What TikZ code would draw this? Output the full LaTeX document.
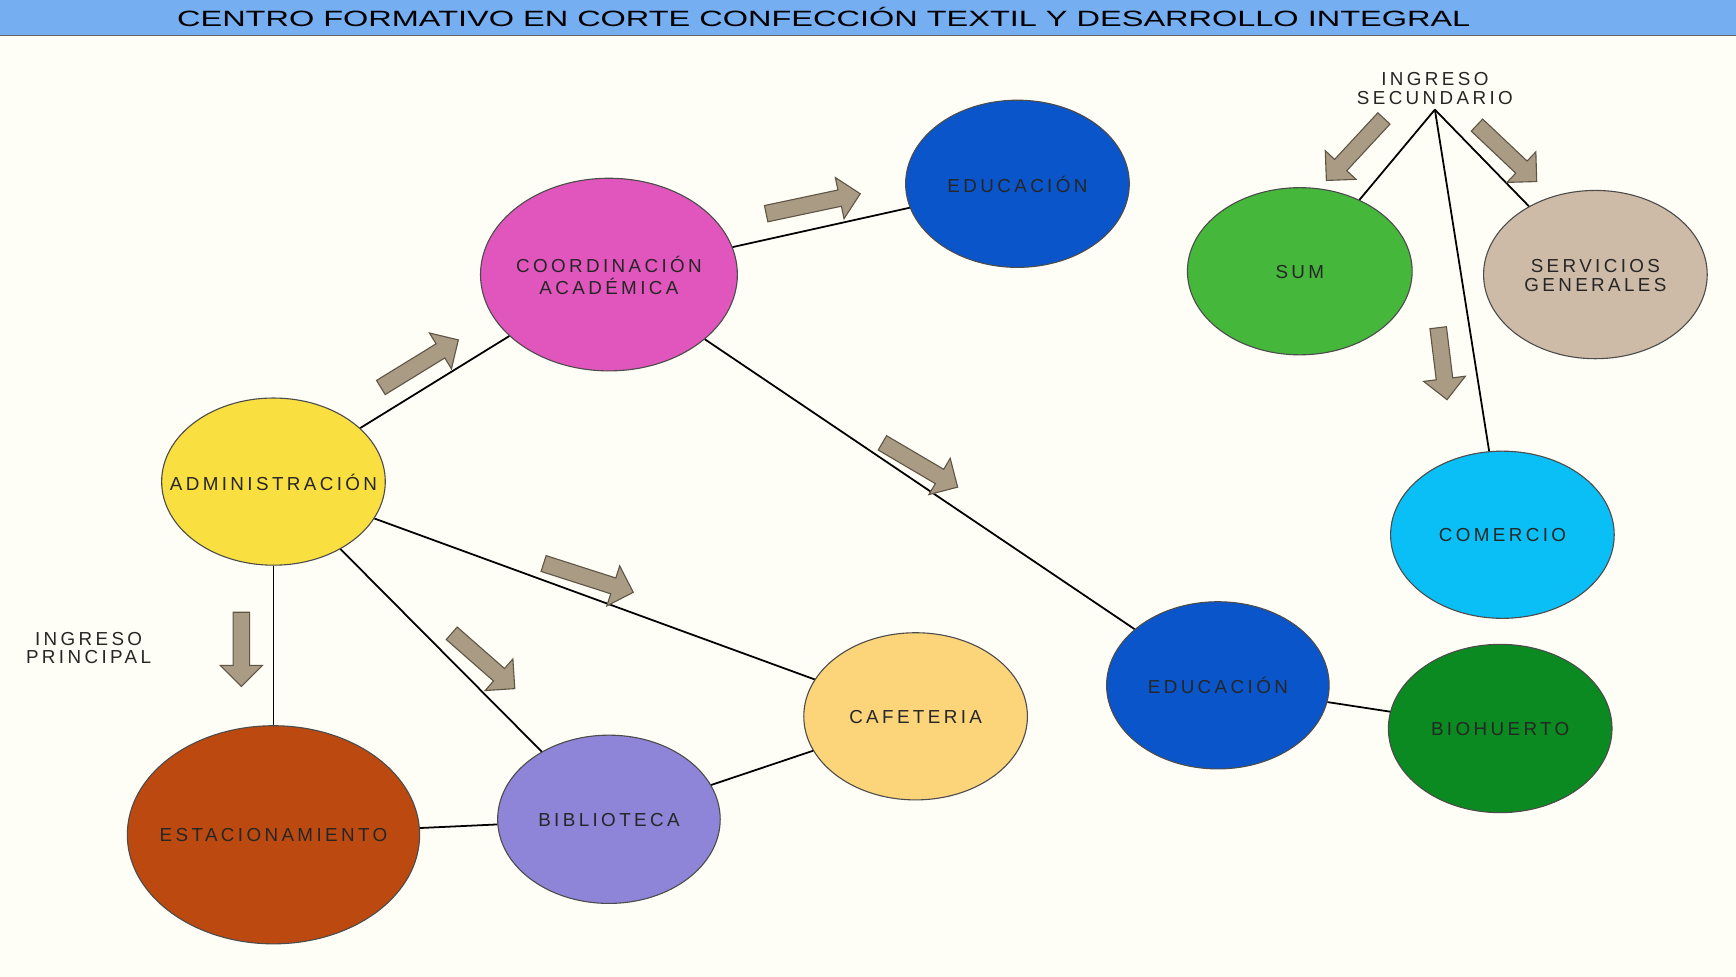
\documentclass[tikz,border=0pt]{standalone}
\usepackage{graphicx}
\usepackage{fontspec}
\setmainfont{Liberation Sans}
\newfontfamily\lblfont[LetterSpace=18]{Liberation Sans}
\usetikzlibrary{shapes.geometric}
\definecolor{bg}{HTML}{FFFEF6}
\definecolor{titleblue}{HTML}{76AEF2}
\definecolor{cEdu}{HTML}{0A55CA}
\definecolor{cCoord}{HTML}{E056BC}
\definecolor{cAdmin}{HTML}{FADF40}
\definecolor{cEstac}{HTML}{BC4A10}
\definecolor{cBiblio}{HTML}{8E85D8}
\definecolor{cCafe}{HTML}{FCD57A}
\definecolor{cBio}{HTML}{0A8A20}
\definecolor{cCom}{HTML}{0ABFF5}
\definecolor{cSum}{HTML}{45B83B}
\definecolor{cServ}{HTML}{CDBBA7}
\definecolor{arrfill}{HTML}{A99B84}
\definecolor{arredge}{HTML}{5E5546}
\newcommand{\zl}[1]{\raisebox{-1.5pt}[\height][\depth]{\makebox[0pt][c]{\begin{tabular}{@{}c@{}}#1\end{tabular}}}}
\newcommand{\blkarrow}[4]{%
  \pgfmathsetmacro\baang{atan2(-(#4-#2),#3-#1)}%
  \pgfmathsetmacro\balen{0.5*veclen(#3-#1,#4-#2)}%
  \begin{scope}[shift={(#1,#2)},rotate=\baang]
    \draw[blockarrow] (0pt,-3.75pt) -- ({\balen pt-9.5pt},-3.75pt) -- ({\balen pt-9.5pt},-9.5pt) -- (\balen pt,0pt) -- ({\balen pt-9.5pt},9.5pt) -- ({\balen pt-9.5pt},3.75pt) -- (0pt,3.75pt) -- cycle;
  \end{scope}}
\begin{document}
\begin{tikzpicture}[x=0.5pt,y=-0.5pt,
  zone/.style={ellipse, draw=black!70, line width=0.5pt, inner sep=0pt,
    font=\lblfont\fontsize{8.5}{8.5}\selectfont, text=black!85},
  conn/.style={draw=black, line width=0.8pt},
  blockarrow/.style={draw=arredge, fill=arrfill, line width=0.5pt, line join=miter},
  plain/.style={align=center, inner sep=0pt, font=\lblfont\fontsize{8.5}{8.2}\selectfont, text=black!85}]
\useasboundingbox (0,0) rectangle (1568,882);
\fill[bg] (0,0) rectangle (1568,882);
% title bar
\fill[titleblue] (0,0) rectangle (1568,32);
\draw[black!60, line width=0.8pt] (0,32) -- (1568,32);
\node[inner sep=0pt] (title) at (744,15) {\resizebox{584pt}{\height}{\fontsize{10}{12}\selectfont CENTRO FORMATIVO EN CORTE CONFECCIÓN TEXTIL Y DESARROLLO INTEGRAL}};
% zones
\node[zone, fill=cEdu, minimum width=101pt, minimum height=75.5pt] (edu1) at (919,166) {\zl{EDUCACIÓN}};
\node[zone, fill=cCoord, minimum width=116pt, minimum height=87pt] (coord) at (550,248) {\zl{COORDINACIÓN\\ACADÉMICA}};
\node[zone, fill=cAdmin, minimum width=101pt, minimum height=75.5pt] (admin) at (247,435) {\zl{ADMINISTRACIÓN}};
\node[zone, fill=cEstac, minimum width=132pt, minimum height=98.5pt] (estac) at (247,754) {\zl{ESTACIONAMIENTO}};
\node[zone, fill=cBiblio, minimum width=100.5pt, minimum height=76pt] (biblio) at (550,740) {\zl{BIBLIOTECA}};
\node[zone, fill=cCafe, minimum width=101pt, minimum height=75.5pt] (cafe) at (827,647) {\zl{CAFETERIA}};
\node[zone, fill=cEdu, minimum width=100.5pt, minimum height=75.5pt] (edu2) at (1100,619) {\zl{EDUCACIÓN}};
\node[zone, fill=cBio, minimum width=101pt, minimum height=76pt] (bio) at (1355,658) {\zl{BIOHUERTO}};
\node[zone, fill=cCom, minimum width=101pt, minimum height=75.5pt] (com) at (1357,483) {\zl{COMERCIO}};
\node[zone, fill=cSum, minimum width=101.5pt, minimum height=75.5pt] (sum) at (1174,245) {\zl{SUM}};
\node[zone, fill=cServ, minimum width=101pt, minimum height=76pt] (serv) at (1441,248) {\zl{SERVICIOS\\GENERALES}};
% entry labels
\node[plain] (ingsec) at (1296,80) {INGRESO\\SECUNDARIO};
\coordinate (apex) at (1296,99);
\node[plain] (ingpri) at (80,585) {INGRESO\\PRINCIPAL};
% connectors
\draw[conn] (admin) -- (coord);
\draw[conn] (coord) -- (edu1);
\draw[conn] (coord) -- (edu2);
\draw[conn] (admin) -- (estac);
\draw[conn] (admin) -- (biblio);
\draw[conn] (admin) -- (cafe);
\draw[conn] (estac) -- (biblio);
\draw[conn] (biblio) -- (cafe);
\draw[conn] (edu2) -- (bio);
\draw[conn] (apex) -- (sum);
\draw[conn] (apex) -- (serv);
\draw[conn] (apex) -- (com);
% direction arrows
\blkarrow{344}{350}{414}{307}
\blkarrow{692}{193}{777}{175}
\blkarrow{797}{400}{865}{440}
\blkarrow{491}{509}{572}{535}
\blkarrow{408}{572}{465}{622}
\blkarrow{218}{553}{218}{620}
\blkarrow{1250}{107}{1198}{163}
\blkarrow{1334}{113}{1388}{164}
\blkarrow{1299}{296}{1307}{361}
\end{tikzpicture}
\end{document}
